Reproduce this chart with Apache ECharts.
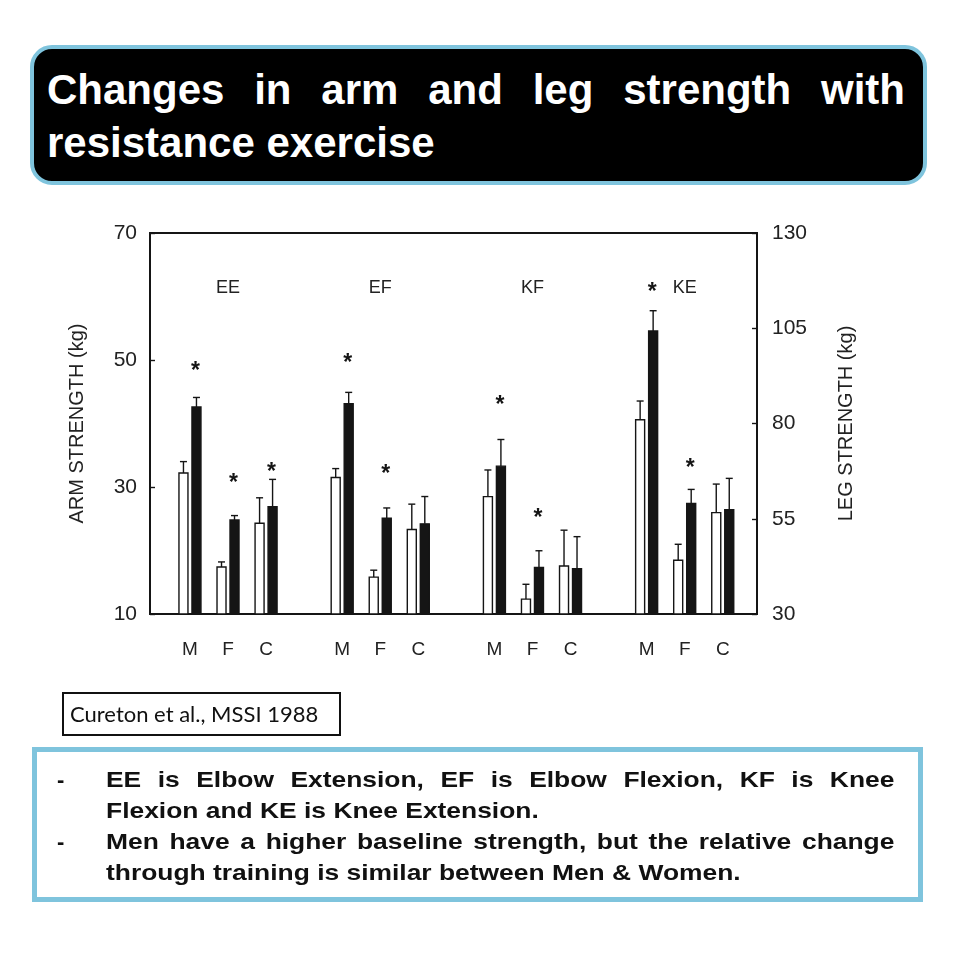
<!DOCTYPE html>
<html>
<head>
<meta charset="utf-8">
<title>Changes in arm and leg strength with resistance exercise</title>
<script src="https://cdn.jsdelivr.net/npm/echarts@6/dist/echarts.min.js"></script>
<style>
  html, body { margin: 0; padding: 0; background: #fff; }
  #page { position: relative; width: 960px; height: 960px; overflow: hidden; }
  #main-chart { position: absolute; left: 0; top: 0; width: 960px; height: 960px; }
  #title-box {
    position: absolute; left: 30px; top: 45px; width: 897px; height: 140px;
    box-sizing: border-box; padding: 14px 18px 0 13px;
    background: #000; border: 4px solid #7fc4dd; border-radius: 22px;
    color: #fff; font: bold 42px/53px "Liberation Sans", Arial, sans-serif;
    text-align: justify;
  }
  #cite {
    position: absolute; left: 62px; top: 692px; width: 279px; height: 44px;
    box-sizing: border-box; border: 2px solid #111; padding-left: 6px;
    font: 22px/40px Lato, "Open Sans", sans-serif; color: #111; white-space: nowrap;
  }
  #notes {
    position: absolute; left: 32px; top: 747px; width: 891px; height: 155px;
    box-sizing: border-box; border: 5px solid #7fc4dd; padding-top: 12px;
    font: bold 22px/31px "Liberation Sans", Arial, sans-serif; color: #111;
  }
  #notes .item { position: relative; }
  #notes .dash { position: absolute; left: 20px; top: 0; }
  #notes p {
    margin: 0 0 0 69px; width: 657px; text-align: justify;
    transform: scaleX(1.2); transform-origin: 0 0;
  }
</style>
</head>
<body>
<div id="page">
  <div id="main-chart"></div>
  <div id="title-box">Changes in arm and leg strength with resistance exercise</div>
  <div id="cite">Cureton et al., MSSI 1988</div>
  <div id="notes">
    <div class="item"><span class="dash">-</span><p>EE is Elbow Extension, EF is Elbow Flexion, KF is Knee Flexion and KE is Knee Extension.</p></div>
    <div class="item"><span class="dash">-</span><p>Men have a higher baseline strength, but the relative change through training is similar between Men &amp; Women.</p></div>
  </div>
</div>
<script>
// x slots: M F C (gap) M F C ...
var slotLabels = ['M', 'F', 'C', '', 'M', 'F', 'C', '', 'M', 'F', 'C', '', 'M', 'F', 'C'];
var labelSlots = [0, 1, 2, 4, 5, 6, 8, 9, 10, 12, 13, 14];
var groupNames = ['EE', 'EF', 'KF', 'KE'];
var groupSlots = [1, 5, 9, 13];
var groupLabelArm = 61.3;

// arm (EE, EF) on left axis
var armMin = 10;
var armSlots = [0, 1, 2, 4, 5, 6];
var armPre = [32.2, 17.4, 24.3, 31.5, 15.8, 23.3];
var armPreSD = [1.8, 0.8, 4.0, 1.4, 1.1, 4.0];
var armPost = [42.6, 24.8, 26.9, 43.1, 25.1, 24.2];
var armPostSD = [1.5, 0.7, 4.3, 1.8, 1.6, 4.3];
var armStar = [49.1, 31.4, 33.2, 50.3, 32.9, null];

// leg (KF, KE) on right axis
var legMin = 30;
var legSlots = [8, 9, 10, 12, 13, 14];
var legPre = [60.8, 33.9, 42.6, 81.0, 44.1, 56.6];
var legPreSD = [7.0, 3.9, 9.4, 4.9, 4.2, 7.5];
var legPost = [68.8, 42.2, 41.9, 104.3, 59.0, 57.4];
var legPostSD = [7.0, 4.4, 8.4, 5.3, 3.7, 8.2];
var legStar = [86.3, 56.5, null, 115.9, 69.7, null];

var ink = '#151515';
var font = '"Liberation Sans", Arial, sans-serif';

function barItem(offset, fill, axisMin, stars) {
    return function(params, api) {
        var slot = api.value(0);
        var val = api.value(1);
        var top = api.coord([slot, val]);
        var err = api.coord([slot, val + api.value(2)]);
        var base = api.coord([slot, axisMin]);
        var x = top[0] + offset;
        var children = [
            {type: 'line', shape: {x1: x, y1: top[1], x2: x, y2: err[1]}, style: {stroke: ink, lineWidth: 1.4}},
            {type: 'line', shape: {x1: x - 3.5, y1: err[1], x2: x + 3.5, y2: err[1]}, style: {stroke: ink, lineWidth: 1.4}},
            {type: 'rect', shape: {x: x - 4.5, y: top[1], width: 9, height: base[1] - top[1]},
             style: {fill: fill, stroke: ink, lineWidth: 1.4}}
        ];
        if (stars && stars[params.dataIndex] != null) {
            var s = api.coord([slot, stars[params.dataIndex]]);
            children.push({type: 'text', x: x - 1, y: s[1] + 6,
                style: {text: '*', fontSize: 23, fontWeight: 'bold', fill: ink, align: 'center', verticalAlign: 'middle', fontFamily: font}});
        }
        return {type: 'group', children: children};
    };
}

function rows(slots, vals, sds) {
    return slots.map(function(s, i) { return [s, vals[i], sds[i]]; });
}

var myChart = echarts.init(document.getElementById('main-chart'));
var option = {
    animation: false,
    grid: {left: 150, top: 233, width: 607, height: 381, show: true, borderColor: ink, borderWidth: 1.8},
    xAxis: {
        type: 'value', min: -1.05, max: 14.9,
        axisLine: {show: true, onZero: false, lineStyle: {color: ink, width: 1.8}},
        axisTick: {show: false},
        splitLine: {show: false},
        axisLabel: {
            customValues: labelSlots,
            formatter: function(v) { return slotLabels[v] || ''; },
            margin: 26, fontSize: 19, color: '#222', fontFamily: font
        }
    },
    yAxis: [{
        type: 'value', position: 'left', min: armMin, max: 70, interval: 20,
        name: 'ARM STRENGTH (kg)', nameLocation: 'middle', nameGap: 63, nameRotate: 90,
        nameTextStyle: {fontSize: 20, color: '#222', fontFamily: font},
        axisLine: {show: true, onZero: false, lineStyle: {color: ink, width: 1.8}},
        axisTick: {show: true, inside: true, length: 5, lineStyle: {color: ink, width: 1.4}},
        axisLabel: {margin: 13, fontSize: 21, color: '#222', fontFamily: font},
        splitLine: {show: false}
    }, {
        type: 'value', position: 'right', min: legMin, max: 130, interval: 25,
        name: 'LEG STRENGTH (kg)', nameLocation: 'middle', nameGap: 79, nameRotate: 90,
        nameTextStyle: {fontSize: 20, color: '#222', fontFamily: font},
        axisLine: {show: true, onZero: false, lineStyle: {color: ink, width: 1.8}},
        axisTick: {show: true, inside: true, length: 5, lineStyle: {color: ink, width: 1.4}},
        axisLabel: {margin: 15, fontSize: 21, color: '#222', fontFamily: font},
        splitLine: {show: false}
    }],
    series: [{
        name: 'Arm before', type: 'custom', yAxisIndex: 0, encode: {x: 0, y: 1},
        renderItem: barItem(-6.5, '#fff', armMin, null),
        data: rows(armSlots, armPre, armPreSD)
    }, {
        name: 'Arm after', type: 'custom', yAxisIndex: 0, encode: {x: 0, y: 1},
        renderItem: barItem(6.5, ink, armMin, armStar),
        data: rows(armSlots, armPost, armPostSD)
    }, {
        name: 'Leg before', type: 'custom', yAxisIndex: 1, encode: {x: 0, y: 1},
        renderItem: barItem(-6.5, '#fff', legMin, null),
        data: rows(legSlots, legPre, legPreSD)
    }, {
        name: 'Leg after', type: 'custom', yAxisIndex: 1, encode: {x: 0, y: 1},
        renderItem: barItem(6.5, ink, legMin, legStar),
        data: rows(legSlots, legPost, legPostSD)
    }, {
        name: 'Groups', type: 'custom', yAxisIndex: 0, encode: {x: 0, y: 1},
        renderItem: function(params, api) {
            var p = api.coord([api.value(0), api.value(1)]);
            return {type: 'text', x: p[0], y: p[1],
                style: {text: groupNames[params.dataIndex], fontSize: 18, fill: '#222',
                        align: 'center', verticalAlign: 'middle', fontFamily: font}};
        },
        data: groupSlots.map(function(s) { return [s, groupLabelArm]; })
    }]
};
myChart.setOption(option);
</script>
</body>
</html>
